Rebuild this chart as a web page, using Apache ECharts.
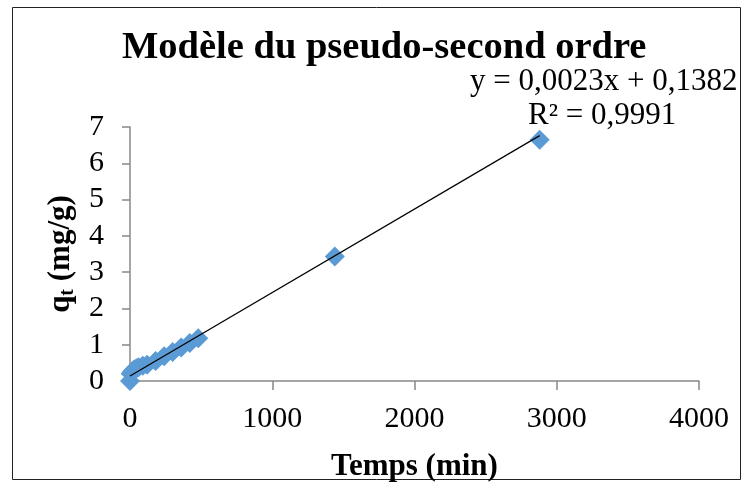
<!DOCTYPE html>
<html><head><meta charset="utf-8">
<script src="https://cdn.jsdelivr.net/npm/echarts@6/dist/echarts.min.js"></script>
<style>html,body{margin:0;padding:0;background:#fff}#c{width:750px;height:487px}</style>
</head><body><div id="c"></div>
<script>
const timeMin = [0, 5, 10, 15, 20, 30, 45, 60, 90, 120, 180, 240, 300, 360, 420, 480, 1440, 2880];
const qtValues = [0, 0.2, 0.22, 0.25, 0.28, 0.32, 0.35, 0.38, 0.42, 0.45, 0.55, 0.68, 0.8, 0.92, 1.05, 1.18, 3.43, 6.65];
const trendSlope = 0.0023;
const trendIntercept = 0.1382;
const xTicks = [0, 1000, 2000, 3000, 4000];
const yTicks = [0, 1, 2, 3, 4, 5, 6, 7];

const pts = timeMin.map((t, i) => [t, qtValues[i]]);
const xMinD = Math.min(...timeMin), xMaxD = Math.max(...timeMin);
const trend = [[xMinD, trendSlope * xMinD + trendIntercept], [xMaxD, trendSlope * xMaxD + trendIntercept]];
const serif = '"Liberation Serif","Times New Roman",serif';

const chart = echarts.init(document.getElementById('c'), null, {renderer: 'canvas'});
chart.setOption({
  animation: false,
  backgroundColor: '#fff',
  grid: {left: 130, right: 51, top: 127, bottom: 106},
  xAxis: {
    type: 'value', min: xTicks[0], max: xTicks[xTicks.length - 1], interval: xTicks[1] - xTicks[0],
    axisLine: {lineStyle: {color: '#888', width: 1.5}},
    axisTick: {show: true, length: 9, lineStyle: {color: '#888', width: 1.5}},
    splitLine: {show: false},
    axisLabel: {color: '#000', fontFamily: serif, fontSize: 30, margin: 23, formatter: v => String(v)},
    name: 'Temps (min)', nameLocation: 'middle', nameGap: 70,
    nameTextStyle: {color: '#000', fontFamily: serif, fontSize: 31, fontWeight: 'bold'}
  },
  yAxis: {
    type: 'value', min: yTicks[0], max: yTicks[yTicks.length - 1], interval: yTicks[1] - yTicks[0],
    axisLine: {show: true, lineStyle: {color: '#888', width: 1.5}},
    axisTick: {show: true, length: 8, lineStyle: {color: '#888', width: 1.5}},
    splitLine: {show: false},
    axisLabel: {color: '#000', fontFamily: serif, fontSize: 30, margin: 26},
    name: '{b|q}{s|t}{b| (mg/g)}', nameLocation: 'middle', nameGap: 49, nameRotate: 90,
    nameTextStyle: {
      color: '#000', fontFamily: serif, fontSize: 31, fontWeight: 'bold',
      rich: {
        b: {fontFamily: serif, fontSize: 31, fontWeight: 'bold', color: '#000'},
        s: {fontFamily: serif, fontSize: 20, fontWeight: 'bold', color: '#000', verticalAlign: 'bottom', padding: [14, 0, 0, 0]}
      }
    }
  },
  series: [
    {type: 'scatter', data: pts, symbol: 'diamond', symbolSize: 20,
     itemStyle: {color: '#5B9BD5', opacity: 1}, z: 2},
    {type: 'line', data: trend, symbol: 'none', lineStyle: {color: '#000', width: 1.2}, z: 3}
  ],
  graphic: [
    {type: 'rect', shape: {x: 12.5, y: 7.5, width: 728, height: 472}, style: {fill: 'none', stroke: '#222', lineWidth: 1}, silent: true},
    {type: 'text', left: 122, top: 29, style: {text: 'Modèle du pseudo-second ordre', font: 'bold 38.5px ' + serif, fill: '#000'}},
    {type: 'text', left: 470, top: 66, style: {text: 'y = 0,0023x + 0,1382', font: '31px ' + serif, fill: '#000'}},
    {type: 'text', left: 528, top: 100, style: {text: 'R² = 0,9991', font: '31px ' + serif, fill: '#000'}}
  ]
});
</script></body></html>
